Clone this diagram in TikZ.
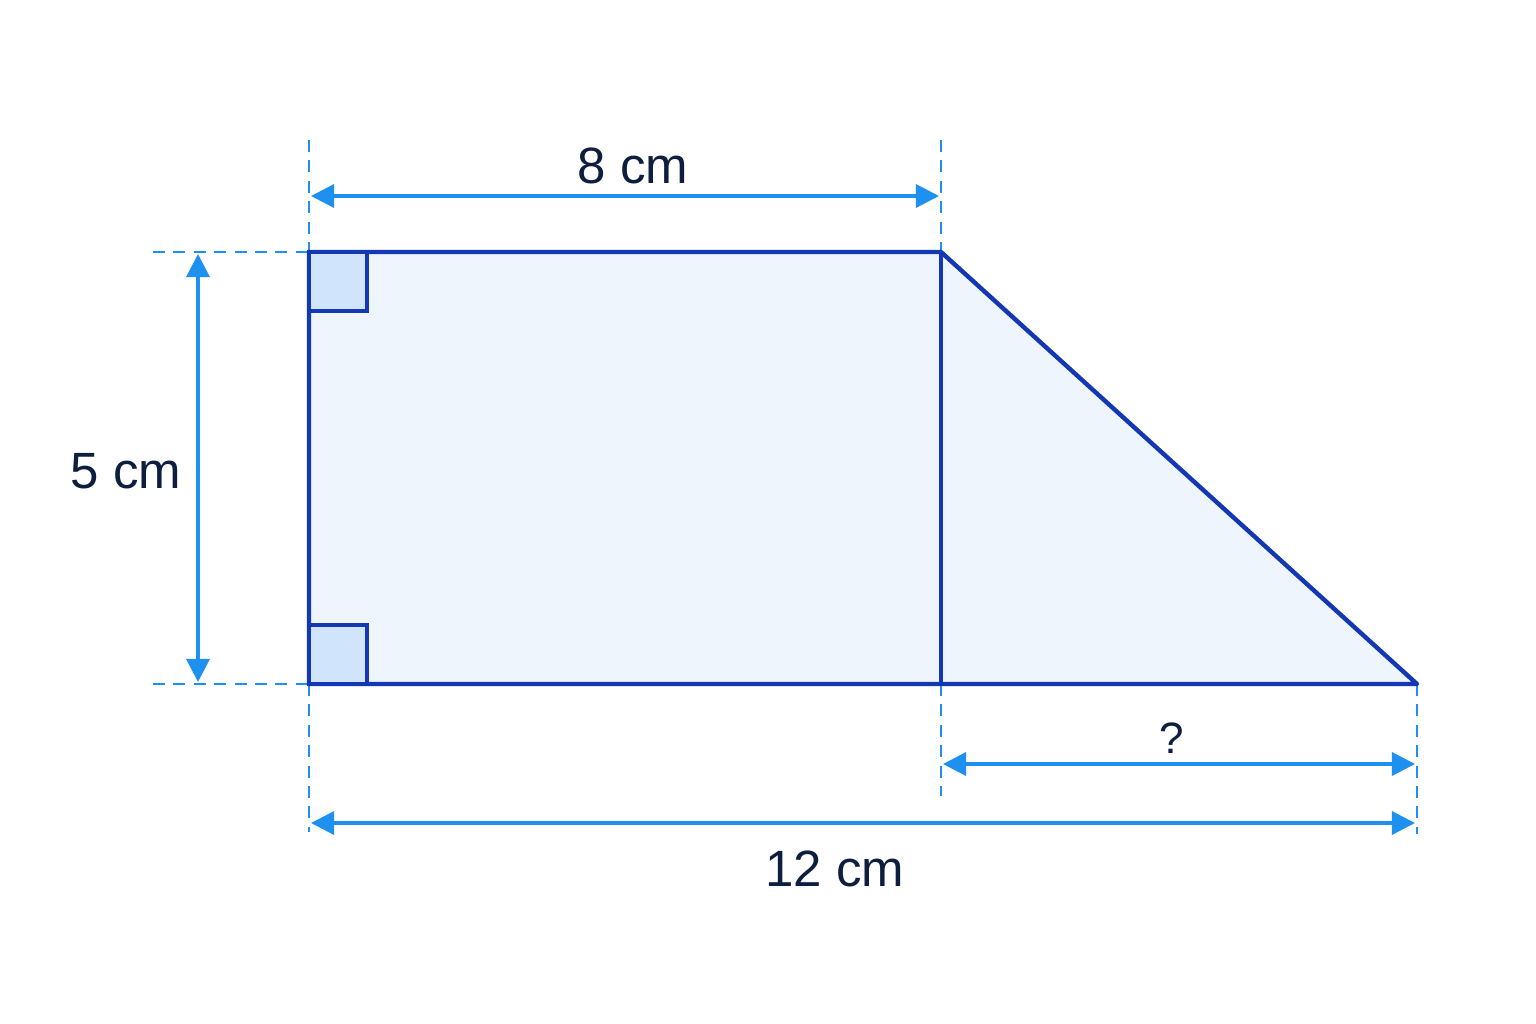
\documentclass[tikz,border=0pt]{standalone}
\usepackage{fontspec}
\setmainfont{Liberation Sans}
\usepackage{tikz}
\usetikzlibrary{arrows.meta}

\definecolor{edgeblue}{RGB}{20,56,180}
\definecolor{fillblue}{RGB}{238,245,253}
\definecolor{cornerblue}{RGB}{208,228,251}
\definecolor{dimblue}{RGB}{30,144,240}
\definecolor{labelnavy}{RGB}{14,30,62}

\tikzset{
  figure/.style={draw=edgeblue, line width=1.25pt, line join=round, fill=fillblue},
  corner/.style={draw=edgeblue, line width=1.2pt, fill=cornerblue},
  guide/.style={draw=dimblue, line width=0.8pt, dash pattern=on 3.4pt off 2.4pt},
  dimline/.style={draw=dimblue, line width=0.9pt, {Triangle[length=6.6pt,width=6.6pt]}-{Triangle[length=6.6pt,width=6.6pt]}},
  dimlabel/.style={text=labelnavy, font=\fontsize{14.5}{16}\selectfont, inner sep=0pt}
}

\begin{document}
\begin{tikzpicture}[x=0.01cm, y=-0.01cm]
                    \useasboundingbox[fill=white] (0,0) rectangle (1536,1024);

                    \coordinate (A) at (309,252);
                    \coordinate (B) at (941,252);
                    \coordinate (C) at (941,684);
                    \coordinate (D) at (309,684);
                    \coordinate (E) at (1417,684);

                    % guides
                    \draw[guide] (309,140) -- (A);
                    \draw[guide] (D) -- (309,832);
                    \draw[guide] (941,140) -- (B);
                    \draw[guide] (C) -- (941,796);
                    \draw[guide] (E) -- (1417,834);
                    \draw[guide] (153,252) -- (A);
                    \draw[guide] (153,684) -- (D);

                    % shape
                    \path[figure] (A) -- (B) -- (E) -- (D) -- cycle;
                    \draw[figure, fill=none] (B) -- (C);
                    \draw[corner] (309,252) rectangle (367,311);
                    \draw[corner] (309,625) rectangle (367,684);

                    % dimensions
                    \coordinate (T1) at (311,196);
                    \coordinate (T2) at (939,196);
                    \coordinate (L1) at (198,254);
                    \coordinate (L2) at (198,682);
                    \coordinate (Q1) at (943,764);
                    \coordinate (Q2) at (1415,764);
                    \coordinate (W1) at (311,823);
                    \coordinate (W2) at (1415,823);

                    \draw[dimline] (T1) -- (T2);
                    \draw[dimline] (L1) -- (L2);
                    \draw[dimline] (Q1) -- (Q2);
                    \draw[dimline] (W1) -- (W2);

                    \node[dimlabel] (top) at (633,166) {8 cm};
                    \node[dimlabel] (side) at (126,471) {5 cm};
                    \node[dimlabel, font=\fontsize{12.5}{14}\selectfont] (gap) at (1172,738) {?};
                    \node[dimlabel] (base) at (835,869) {12 cm};
                \end{tikzpicture}
\end{document}
